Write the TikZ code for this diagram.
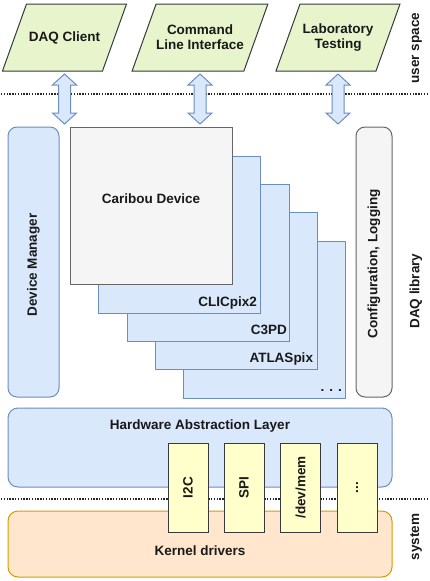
\documentclass[tikz,border=0pt]{standalone}
\usepackage{fontspec}
\setmainfont{Liberation Sans}
\usetikzlibrary{backgrounds}
\definecolor{bluefill}{HTML}{DAE8FC}
\definecolor{bluedraw}{HTML}{6C8EBF}
\definecolor{grayfill}{HTML}{F5F5F5}
\definecolor{graydraw}{HTML}{666666}
\definecolor{orfill}{HTML}{FFE6CC}
\definecolor{ordraw}{HTML}{D79B00}
\definecolor{yefill}{HTML}{FFFFCC}
\definecolor{darkdraw}{HTML}{36393D}
\definecolor{grfill}{HTML}{E8F5CC}
\begin{document}
\begin{tikzpicture}[x=1pt,y=-1pt,
  every node/.style={font=\fontsize{13.5}{15}\selectfont\bfseries, text=black!90, inner sep=0pt, outer sep=0pt},
  txt/.style={align=center},
  para/.style={draw=darkdraw, fill=grfill, line width=1pt, line join=miter},
  bluebox/.style={draw=bluedraw, fill=bluefill, line width=1pt},
  graybox/.style={draw=graydraw, fill=grayfill, line width=1pt},
  orbox/.style={draw=ordraw, fill=orfill, line width=1pt},
  yebox/.style={draw=darkdraw, fill=yefill, line width=1pt, minimum width=40pt, minimum height=89pt},
  stackbox/.style={bluebox, minimum width=162pt, minimum height=157pt, anchor=north west},
  rounded/.style={rounded corners=9pt},
  dotline/.style={line width=1.6pt, dash pattern=on 1.4pt off 1.4pt, black!85},
  dblarrow/.style={draw=bluedraw, fill=bluefill, line width=1pt, line join=miter},
  stacklabel/.style={anchor=base east},
]
\useasboundingbox (0,0) rectangle (429,581);

% top applications (parallelograms)
\node[txt, minimum width=76pt, minimum height=67pt] (p1) at (64.5,37.5) {DAQ Client};
\node[txt, minimum width=76pt, minimum height=67pt] (p2) at (200,37.5) {Command\\Line Interface};
\node[txt, minimum width=76pt, minimum height=67pt] (p3) at (338,37.5) {Laboratory\\Testing};
\begin{scope}[on background layer]
\foreach \p in {p1,p2,p3}{
  \draw[para] (\p.north west) -- ([xshift=24pt]\p.north east) -- (\p.south east) -- ([xshift=-24pt]\p.south west) -- cycle;
}
\end{scope}

\node[rotate=90] (us) at (417,48) {user space};

% dotted separator 1
\coordinate (d1a) at (1,94);
\coordinate (d1b) at (429,94);
\draw[dotline] (d1a) -- (d1b);

% double arrows
\foreach \p in {p1,p2,p3}{
  \draw[dblarrow] ([yshift=-3pt]\p.south) -- ++(12,11) -- ++(-6,0) -- ++(0,28) -- ++(6,0)
     -- ++(-12,11) -- ++(-12,-11) -- ++(6,0) -- ++(0,-28) -- ++(-6,0) -- cycle;
}

% DAQ library
\node[bluebox, rounded, minimum width=51pt, minimum height=270pt] (dm) at (33.5,262) {};
\node[rotate=90] at (33.5,265) {Device Manager};
\node[graybox, rounded, minimum width=36pt, minimum height=270pt] (cfg) at (374,262) {};
\node[rotate=90] at (374,264) {Configuration, Logging};

\node[stackbox] (s4) at (183,241) {};
\node[stacklabel] at ([xshift=-3pt,yshift=7pt]s4.south east) {. . .};
\node[stackbox] (s3) at (155,212) {};
\node[stacklabel] at ([xshift=-4pt,yshift=7pt]s3.south east) {ATLASpix};
\node[stackbox] (s2) at (127,184) {};
\node[stacklabel] at ([xshift=-2pt,yshift=7pt]s2.south east) {C3PD};
\node[stackbox] (s1) at (98,156) {};
\node[stacklabel] at ([xshift=-3pt,yshift=7pt]s1.south east) {CLICpix2};
\node[graybox, minimum width=162pt, minimum height=157pt, anchor=north west] (cd) at (70,127) {};
\node at (151,199) {Caribou Device};

\node[rotate=90] (lib) at (416,291) {DAQ library};

% HAL and kernel
\node[bluebox, rounded=10pt, rounded corners=10pt, minimum width=384pt, minimum height=79pt] (hal) at (200,447.5) {};
\node at (200,426) {Hardware Abstraction Layer};
\node[orbox, rounded corners=10pt, minimum width=384pt, minimum height=66pt] (kern) at (200,544) {};
\node at (200,551) {Kernel drivers};

% dotted separator 2
\coordinate (d2a) at (1,499);
\coordinate (d2b) at (429,499);
\draw[dotline] (d2a) -- (d2b);

% drivers
\node[yebox] (i2c) at (188,487.5) {};
\node[rotate=90] at (i2c) {I2C};
\node[yebox] (spi) at (244,487.5) {};
\node[rotate=90] at (spi) {SPI};
\node[yebox] (mem) at (300.5,487.5) {};
\node[rotate=90] at (mem) {/dev/mem};
\node[yebox] (oth) at (357,487.5) {};
\node[rotate=90] at (oth) {...};

\node[rotate=90] (sys) at (416,537) {system};
\end{tikzpicture}
\end{document}
